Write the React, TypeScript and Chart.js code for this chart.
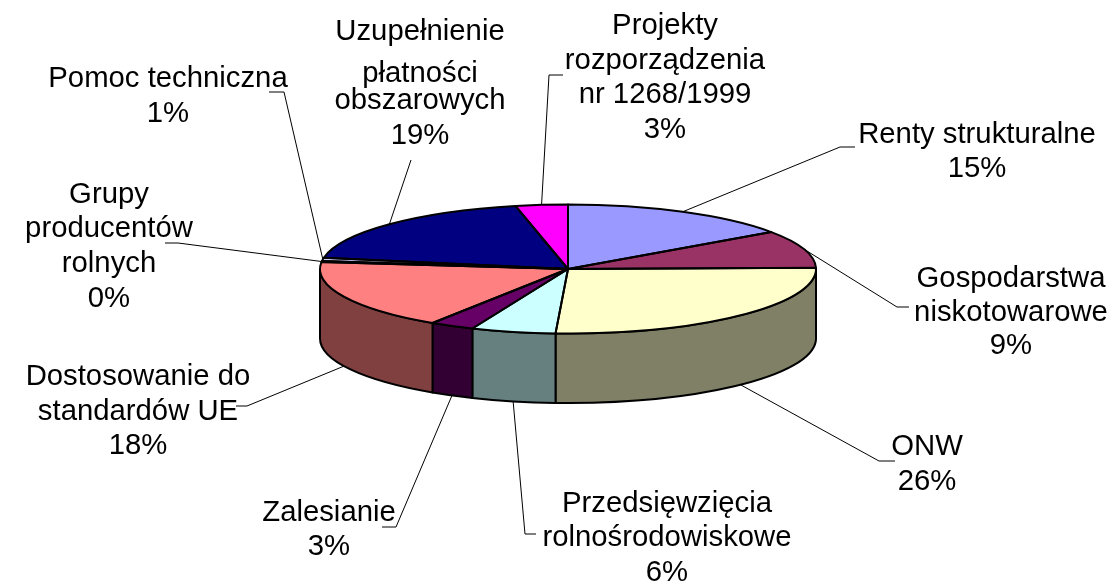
import React, { useEffect, useRef } from "react";
import { Chart, registerables } from "chart.js";

Chart.register(...registerables);

const categories = [
  ["Renty strukturalne"],
  ["Gospodarstwa", "niskotowarowe"],
  ["ONW"],
  ["Przedsięwzięcia", "rolnośrodowiskowe"],
  ["Zalesianie"],
  ["Dostosowanie do", "standardów UE"],
  ["Grupy", "producentów", "rolnych"],
  ["Pomoc techniczna"],
  ["Uzupełnienie", "płatności", "obszarowych"],
  ["Projekty", "rozporządzenia", "nr 1268/1999"],
];
const shares = [15.3, 9.4, 26.1, 5.5, 2.9, 17.5, 0.3, 0.8, 18.8, 3.4];
const percentLabels = ["15%", "9%", "26%", "6%", "3%", "18%", "0%", "1%", "19%", "3%"];
const topColors = ["#9999FF", "#993366", "#FFFFCC", "#CCFFFF", "#660066", "#FF8080", "#0066CC", "#CCCCFF", "#000080", "#FF00FF"];
const sideColors = ["#4D4D80", "#4D1A33", "#808066", "#668080", "#330033", "#804040", "#003366", "#666680", "#000040", "#800080"];

// Label placement: centre x, the centre y of each line, and the leader's elbow points.
const labelLayout = [
  { x: 977, ys: [135, 169], leader: [[840, 147], [855, 147]] },
  { x: 1011, ys: [279, 313, 346], leader: [[897, 307], [909, 307]] },
  { x: 927, ys: [447, 482], leader: [[879, 461], [895, 461]] },
  { x: 667, ys: [504, 538, 573], leader: [[525, 534], [536, 534]] },
  { x: 329, ys: [513, 547], leader: [[396, 527], [382, 527]] },
  { x: 138, ys: [377, 412, 446], leader: [[247, 406], [236, 406]] },
  { x: 109, ys: [195, 229, 264, 299], leader: [[178, 243], [165, 243]] },
  { x: 168, ys: [79, 114], leader: [[284, 92], [269, 92]] },
  { x: 420, ys: [32, 74, 101, 136], leader: [[411, 160]] },
  { x: 665, ys: [26, 61, 95, 130], leader: [[549, 75], [563, 75]] },
];

const SQUASH = 64.5 / 248;
const DEPTH = 69.5;
const FONT = '29.3px "Liberation Sans", Arial, sans-serif';

const pie3d = {
  id: "pie3d",
  beforeDatasetsDraw(chart: any) {
    const ctx = chart.ctx;
    const arcs = chart.getDatasetMeta(0).data;
    const { x: cx, y: cy, outerRadius: r } = arcs[0];
    const ry = r * SQUASH;
    ctx.save();
    ctx.lineWidth = 2;
    ctx.strokeStyle = "#000";
    ctx.lineJoin = "round";
    arcs.forEach((arc: any, i: number) => {
      const a = Math.max(arc.startAngle, 0);
      const b = Math.min(arc.endAngle, Math.PI);
      if (b <= a) return;
      ctx.beginPath();
      ctx.ellipse(cx, cy, r, ry, 0, a, b);
      ctx.ellipse(cx, cy + DEPTH, r, ry, 0, b, a, true);
      ctx.closePath();
      ctx.fillStyle = sideColors[i];
      ctx.fill();
      ctx.stroke();
    });
    ctx.restore();
    ctx.save();
    ctx.translate(cx, cy);
    ctx.scale(1, SQUASH);
    ctx.translate(-cx, -cy);
  },
  afterDatasetsDraw(chart: any) {
    const ctx = chart.ctx;
    ctx.restore();
    const arcs = chart.getDatasetMeta(0).data;
    const { x: cx, y: cy, outerRadius: r } = arcs[0];
    const ry = r * SQUASH;
    ctx.save();
    ctx.lineWidth = 2;
    ctx.strokeStyle = "#000";
    ctx.lineJoin = "round";
    arcs.forEach((arc: any) => {
      ctx.beginPath();
      ctx.moveTo(cx, cy);
      ctx.ellipse(cx, cy, r, ry, 0, arc.startAngle, arc.endAngle);
      ctx.closePath();
      ctx.stroke();
    });
    ctx.lineWidth = 1;
    arcs.forEach((arc: any, i: number) => {
      const mid = (arc.startAngle + arc.endAngle) / 2;
      const px = cx + r * Math.cos(mid);
      let py = cy + ry * Math.sin(mid);
      if (Math.sin(mid) > 0) py += DEPTH;
      ctx.beginPath();
      ctx.moveTo(px, py);
      labelLayout[i].leader.forEach(([lx, ly]) => ctx.lineTo(lx, ly));
      ctx.stroke();
    });
    ctx.fillStyle = "#000";
    ctx.font = FONT;
    ctx.textAlign = "center";
    ctx.textBaseline = "middle";
    categories.forEach((lines, i) => {
      const { x, ys } = labelLayout[i];
      [...lines, percentLabels[i]].forEach((line, k) => ctx.fillText(line, x, ys[k]));
    });
    ctx.restore();
  },
};

export default function App() {
  const ref = useRef<HTMLCanvasElement>(null);
  useEffect(() => {
    document.body.style.margin = "0";
    document.body.style.background = "#fff";
    const chart = new Chart(ref.current!, {
      type: "pie",
      data: {
        labels: categories.map((c) => c.join(" ")),
        datasets: [{ data: shares, backgroundColor: topColors, borderWidth: 0 }],
      },
      options: {
        responsive: false,
        animation: false,
        layout: { padding: { left: 320, right: 296, top: 21, bottom: 66 } },
        plugins: { legend: { display: false }, tooltip: { enabled: false } },
      },
      plugins: [pie3d],
    } as any);
    return () => chart.destroy();
  }, []);
  return (
    <div style={{ width: 1112, height: 583, background: "#fff" }}>
      <canvas ref={ref} width={1112} height={583} style={{ display: "block" }} />
    </div>
  );
}
